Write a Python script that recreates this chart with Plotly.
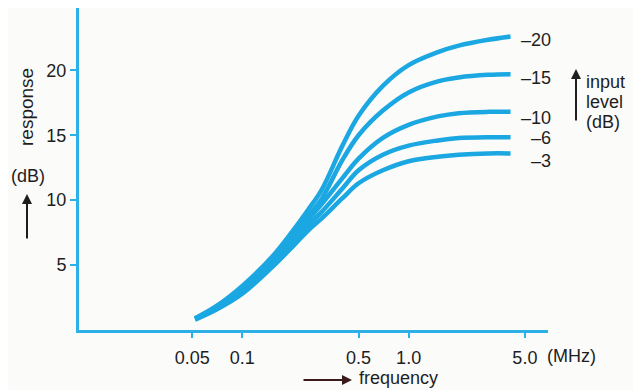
import plotly.graph_objects as go

# frequency points (MHz)
freq = [0.052, 0.07, 0.1, 0.15, 0.2, 0.25, 0.3, 0.4, 0.5, 0.7, 1.0, 1.5, 2.0, 3.0, 4.1]

# response (dB) for each input level
resp_m20 = [0.9, 1.85, 3.4, 5.6, 7.6, 9.3, 10.8, 14.2, 16.5, 18.8, 20.4, 21.4, 21.9, 22.35, 22.6]
resp_m15 = [0.87, 1.78, 3.2, 5.35, 7.25, 8.8, 10.1, 13.1, 15.0, 16.9, 18.3, 19.15, 19.45, 19.65, 19.7]
resp_m10 = [0.85, 1.72, 3.1, 5.2, 7.0, 8.5, 9.7, 11.7, 13.2, 14.8, 15.8, 16.45, 16.7, 16.8, 16.8]
resp_m6 = [0.83, 1.65, 2.95, 5.0, 6.7, 8.1, 9.1, 10.9, 12.3, 13.5, 14.2, 14.6, 14.78, 14.85, 14.85]
resp_m3 = [0.8, 1.58, 2.8, 4.8, 6.4, 7.7, 8.6, 10.15, 11.3, 12.3, 13.0, 13.35, 13.5, 13.6, 13.6]

level_labels = ["–20", "–15", "–10", "–6", "–3"]
series = [resp_m20, resp_m15, resp_m10, resp_m6, resp_m3]

x_ticks = [0.05, 0.1, 0.5, 1.0, 5.0]
x_ticktext = ["0.05", "0.1", "0.5", "1.0", "5.0"]
y_ticks = [5, 10, 15, 20]

BLUE = "#1ba7e1"
AXIS = "#2bb1e8"
INK = "#1e1e1e"
FONT = "Liberation Sans, Arial, sans-serif"
FS = 18

# plot area in page pixels (page body has an 8px margin)
L, R, T, B = 79, 548, 8, 330
OFF = 8


def px(x):
    return (x - L) / (R - L)


def py(y):
    return (B - y) / (B - T)


def label(x, y, text, xanchor="center", size=FS, **kw):
    fig.add_annotation(x=px(x), y=py(y), xref="paper", yref="paper", text=text,
                       showarrow=False, xanchor=xanchor, yanchor="middle",
                       font=dict(size=size, color=INK, family=FONT), **kw)


def arrow(x, y, ax, ay, color=INK):
    fig.add_annotation(x=px(x), y=py(y), xref="paper", yref="paper", text="",
                       showarrow=True, arrowhead=2, arrowsize=1, arrowwidth=2,
                       arrowcolor=color, ax=ax, ay=ay)


fig = go.Figure()
for vals, name in zip(series[::-1], level_labels[::-1]):
    fig.add_trace(go.Scatter(x=freq, y=vals, mode="lines", name=name,
                             line=dict(color=BLUE, width=4.5, shape="spline"),
                             hoverinfo="skip"))

# level labels at the right-hand end of the curves
label_y = [40, 78, 118, 138, 161]
for txt, ly in zip(level_labels, label_y):
    label(553, ly, txt, xanchor="right")

label(545, 356, "(MHz)", xanchor="left")

# input level note
arrow(576, 69, 0, 53)
for txt, ly in zip(["input", "level", "(dB)"], [82, 102, 122]):
    label(584, ly, txt, xanchor="left")

# y axis title
label(27, 107, "response", size=19, textangle=-90)
label(28, 176, "(dB)")
arrow(27, 194, 0, 46)

# x axis title
arrow(352, 380, -50, 0, color="#3a1a1a")
label(357, 378, "frequency", xanchor="left")

fig.update_xaxes(type="log", range=[-1.982, 0.838], showgrid=False, zeroline=False,
                 showline=True, linecolor=AXIS, linewidth=3,
                 tickvals=x_ticks, ticktext=x_ticktext, ticks="outside",
                 ticklen=5, tickwidth=2, tickcolor=AXIS, ticklabelstandoff=4,
                 tickfont=dict(size=FS, color=INK, family=FONT))
fig.update_yaxes(range=[0, 24.8], showgrid=False, zeroline=False,
                 showline=True, linecolor=AXIS, linewidth=3,
                 tickvals=y_ticks, ticks="outside", ticklen=6, tickwidth=2,
                 tickcolor=AXIS, tickfont=dict(size=FS, color=INK, family=FONT))

fig.update_layout(width=641, height=390, showlegend=False,
                  margin=dict(l=L - OFF, r=641 - (R - OFF), t=T - OFF, b=390 - (B - OFF)),
                  paper_bgcolor="#fbfbfa", plot_bgcolor="#fbfbfa",
                  font=dict(family=FONT, color=INK))

fig.write_html("out.html")
